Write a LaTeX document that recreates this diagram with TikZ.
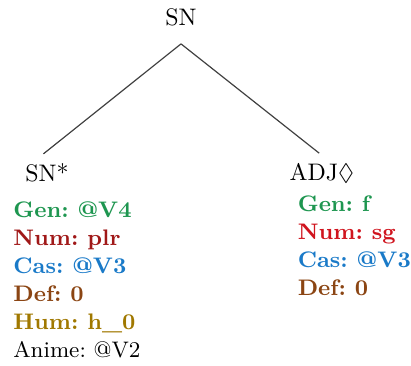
\documentclass[tikz,border=0pt]{standalone}
\usepackage{amsmath,amssymb}
\usepackage{xcolor}
\usetikzlibrary{positioning}

\definecolor{genc}{RGB}{30,150,80}
\definecolor{numc}{RGB}{160,24,24}
\definecolor{numr}{RGB}{208,20,30}
\definecolor{casc}{RGB}{26,122,200}
\definecolor{defc}{RGB}{139,69,19}
\definecolor{humc}{RGB}{160,120,0}

\begin{document}
\begin{tikzpicture}[
  cat/.style={inner sep=3pt,font=\normalsize},
  feat/.style={inner sep=0pt,align=left,anchor=north west,
    font=\bfseries\fontsize{9.4}{11.7}\selectfont\frenchspacing},
  branch/.style={draw=black!75,line width=0.5pt}
]
\useasboundingbox (0,0) rectangle (6.04,-5.364);
%% categories
\node[cat,inner ysep=7.4pt] (root) at (2.66,-0.25) {SN};
\node[cat] (sn) at (0.69,-2.54) {SN*};
\node[cat] (adj) at (4.73,-2.54) {ADJ$\Diamond$};
\draw[branch,shorten >=0.05cm] (root.south) -- (sn.110);
\draw[branch,shorten >=0.05cm] (root.south) -- (adj.north);
%% features
\node[feat] (snfeat) at (0.19,-2.955)
  {\textcolor{genc}{Gen: @V4}\\
   \textcolor{numc}{Num: plr}\\
   \textcolor{casc}{Cas: @V3}\\
   \textcolor{defc}{Def: 0}\\
   \textcolor{humc}{Hum: h\_0}\\
   {\mdseries Anime: @V2}};
\node[feat] (adjfeat) at (4.37,-2.87)
  {\textcolor{genc}{Gen: f}\\
   \textcolor{numr}{Num: sg}\\
   \textcolor{casc}{Cas: @V3}\\
   \textcolor{defc}{Def: 0}};
\end{tikzpicture}
\end{document}
